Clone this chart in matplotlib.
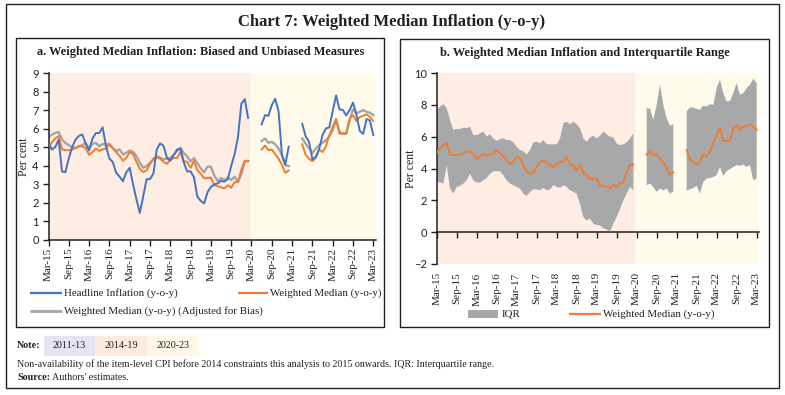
import numpy as np
import matplotlib
matplotlib.use("Agg")
import matplotlib.pyplot as plt
from matplotlib.lines import Line2D
from matplotlib.patches import Rectangle
from matplotlib.text import Annotation

nan = np.nan
# ---------------- data ----------------
tick_labels = ["Mar-15", "Sep-15", "Mar-16", "Sep-16", "Mar-17", "Sep-17", "Mar-18", "Sep-18",
               "Mar-19", "Sep-19", "Mar-20", "Sep-20", "Mar-21", "Sep-21", "Mar-22", "Sep-22", "Mar-23"]

headline = [5.25, 4.87, 5.01, 5.40, 3.69, 3.66, 4.41, 5.00, 5.41, 5.61,
            5.69, 5.18, 4.83, 5.47, 5.76, 5.77, 6.07, 5.05, 4.39, 4.20, 3.63, 3.41,
            3.17, 3.65, 3.89, 2.99, 2.18, 1.46, 2.36, 3.28, 3.28, 3.58, 4.88, 5.21,
            5.07, 4.44, 4.28, 4.58, 4.87, 4.92, 4.17, 3.69, 3.70, 3.38, 2.33, 2.11,
            1.97, 2.57, 2.86, 2.99, 3.05, 3.18, 3.15, 3.28, 3.99, 4.62, 5.54, 7.35,
            7.59, 6.58, nan, nan, nan, 6.23, 6.73, 6.69, 7.27, 7.61, 6.93, 4.59,
            4.06, 5.03, nan, nan, nan, 6.26, 5.59, 5.30, 4.35, 4.48, 4.91, 5.66,
            6.01, 6.07, 6.95, 7.79, 7.04, 7.01, 6.71, 7.00, 7.41, 6.77, 5.88, 5.72,
            6.52, 6.44, 5.66]

wmedian = [5.00, 5.26, 5.47, 5.60, 4.88, 4.84, 4.84, 4.88, 4.95, 5.05,
           5.05, 4.95, 4.59, 4.74, 4.93, 4.80, 4.88, 4.93, 5.14, 4.95, 4.74, 4.53,
           4.27, 4.42, 4.74, 4.63, 4.21, 3.83, 3.66, 3.75, 4.10, 4.38, 4.46, 4.38,
           4.21, 4.10, 4.32, 4.42, 4.42, 4.74, 4.25, 4.21, 3.89, 4.25, 3.75, 3.58,
           3.33, 3.33, 3.37, 2.95, 2.90, 2.84, 2.78, 2.95, 2.82, 3.12, 3.12, 3.79,
           4.25, 4.25, nan, nan, nan, 4.88, 5.09, 4.84, 4.88, 4.63, 4.38, 4.04,
           3.62, 3.75, nan, nan, nan, 5.16, 4.59, 4.38, 4.25, 4.42, 4.88, 4.74,
           5.05, 5.64, 6.10, 6.53, 5.73, 5.73, 5.73, 6.53, 6.74, 6.42, 6.63, 6.69,
           6.78, 6.63, 6.42]

wmedian_adj = [5.54, 5.68, 5.77, 5.82, 5.41, 5.23, 5.11, 5.00, 4.96, 5.05,
               5.11, 5.23, 4.93, 5.18, 5.23, 5.05, 5.18, 5.14, 5.18, 4.96, 4.79, 4.88,
               4.61, 4.70, 4.82, 4.75, 4.52, 4.16, 3.89, 3.98, 4.16, 4.34, 4.52, 4.43,
               4.34, 4.39, 4.41, 4.59, 4.80, 4.98, 4.68, 4.50, 4.23, 4.41, 4.14, 3.86,
               3.65, 3.95, 3.95, 3.47, 3.18, 3.33, 3.24, 3.36, 3.24, 3.41, 3.14, 3.54,
               4.26, 4.26, nan, nan, nan, 5.34, 5.47, 5.24, 5.29, 5.16, 4.93, 4.57,
               4.03, 3.98, nan, nan, nan, 5.47, 5.20, 4.93, 4.69, 4.93, 5.11, 5.24,
               5.38, 5.59, 5.92, 6.46, 5.83, 5.74, 5.74, 6.46, 7.04, 6.82, 6.91, 7.00,
               6.91, 6.86, 6.73]

iqr_upper = [7.68, 7.89, 8.04, 7.79, 7.05, 6.42, 6.48, 6.48, 6.57, 6.53,
             6.63, 6.10, 6.10, 6.21, 6.32, 6.00, 6.15, 5.89, 5.73, 5.85, 5.89, 5.79,
             5.79, 5.64, 5.37, 5.16, 5.09, 4.88, 5.16, 5.64, 5.68, 5.58, 5.79, 5.52,
             5.52, 5.52, 5.52, 5.89, 6.84, 6.95, 6.78, 6.95, 6.78, 6.53, 5.89, 5.68,
             5.94, 6.06, 5.89, 6.06, 6.32, 6.15, 6.00, 5.94, 5.58, 5.47, 5.52, 5.64,
             5.89, 6.21, nan, nan, nan, 7.79, 7.75, 7.05, 8.00, 9.26, 8.00, 7.16,
             6.69, 6.78, nan, nan, nan, 7.58, 7.83, 7.83, 7.75, 7.68, 7.96, 7.89,
             8.04, 8.00, 9.05, 9.58, 8.74, 8.21, 8.25, 8.74, 9.37, 8.63, 8.74, 9.05,
             9.26, 9.64, 9.37]

iqr_lower = [3.16, 3.12, 3.05, 4.21, 2.74, 2.42, 2.84, 2.91, 3.05, 3.26,
             3.68, 3.26, 3.12, 3.12, 3.26, 3.41, 3.68, 3.83, 3.83, 3.83, 3.58, 3.26,
             3.05, 2.95, 2.84, 2.74, 2.42, 2.27, 2.53, 2.69, 2.69, 2.63, 2.78, 2.63,
             2.69, 2.95, 2.84, 2.78, 2.95, 2.84, 2.63, 2.53, 2.42, 1.79, 0.95, 0.74,
             0.84, 0.53, 0.46, 0.42, 0.25, 0.17, 0.04, 0.53, 0.95, 1.47, 2.00, 2.42,
             2.84, 2.63, nan, nan, nan, 2.95, 3.05, 2.84, 2.53, 2.74, 2.63, 2.74,
             2.42, 2.57, nan, nan, nan, 2.63, 2.69, 2.78, 2.91, 2.42, 3.16, 3.37,
             3.41, 3.47, 3.58, 4.10, 3.54, 3.83, 3.96, 4.10, 4.21, 4.17, 4.25, 4.10,
             4.21, 3.26, 3.37]

period_labels = ["2011-13", "2014-19", "2020-23"]
period_colors = ["#E6E3F2", "#FDEBDE", "#FFF8E7"]

# ---------------- styling ----------------
SERIF = ["Liberation Serif", "DejaVu Serif"]
SANS = ["Lato", "DejaVu Sans"]
TXT = "#231F20"
BLUE = "#4472C4"
ORANGE = "#ED7D31"
GREY = "#A5A5A5"
IQRC = "#A7A8AA"
PEACH = "#FDEDE2"
CREAM = "#FFFAEA"

plt.rcParams["font.family"] = SERIF

W, H = 785, 395
fig = plt.figure(figsize=(W / 100, H / 100), dpi=100)


def fx(px):
    return px / W


def fy(py):
    return 1 - py / H


def frame(x0, y0, x1, y1, lw=1.0):
    fig.add_artist(Rectangle((fx(x0), fy(y1)), fx(x1) - fx(x0), fy(y0) - fy(y1),
                             transform=fig.transFigure, fill=False, lw=lw, ec=TXT))


frame(6, 4, 779, 388)
frame(16, 38, 384, 327)
frame(400, 39, 769, 327)

fig.text(fx(392), fy(22), "Chart 7: Weighted Median Inflation (y-o-y)", ha="center", va="center",
         fontsize=12, fontweight="bold", color=TXT)
fig.text(fx(200.5), fy(52), "a. Weighted Median Inflation: Biased and Unbiased Measures",
         ha="center", va="center", fontsize=8.9, fontweight="bold", color=TXT)
fig.text(fx(584.5), fy(53), "b. Weighted Median Inflation and Interquartile Range",
         ha="center", va="center", fontsize=9, fontweight="bold", color=TXT)

n = len(headline)
x = np.arange(n)
tick_pos = np.arange(0, n, 6)
XMAX = 96.8
SPLIT = 59.5

# ---------------- panel a ----------------
axa = fig.add_axes([fx(48.5), fy(240), fx(376) - fx(48.5), fy(73) - fy(240)])
axa.axvspan(0, SPLIT, color=PEACH, lw=0, zorder=0)
axa.axvspan(SPLIT, XMAX, color=CREAM, lw=0, zorder=0)
axa.plot(x, wmedian_adj, color=GREY, lw=1.7, zorder=2)
axa.plot(x, wmedian, color=ORANGE, lw=1.4, zorder=3)
axa.plot(x, headline, color=BLUE, lw=1.4, zorder=4)
axa.set_xlim(0, XMAX)
axa.set_ylim(0, 9)
axa.set_yticks(range(0, 10))
axa.set_xticks(tick_pos)
axa.set_xticklabels(tick_labels, rotation=90, fontsize=8, color=TXT)
for s in ["top", "right"]:
    axa.spines[s].set_visible(False)
for s in ["left", "bottom"]:
    axa.spines[s].set_color(TXT)
    axa.spines[s].set_linewidth(1.1)
axa.tick_params(axis="x", direction="out", length=4, width=1, pad=1.5, colors=TXT)
axa.tick_params(axis="y", direction="out", length=4, width=1, pad=3, colors=TXT)
for lab in axa.get_yticklabels():
    lab.set_fontfamily(SANS)
    lab.set_fontsize(8)
axa.set_ylabel("Per cent", fontsize=8.5, color=TXT)
axa.yaxis.set_label_coords((30 - 48.5) / (376 - 48.5), 0.5)

# ---------------- panel b ----------------
axb = fig.add_axes([fx(436.7), fy(264), fx(759.3) - fx(436.7), fy(73) - fy(264)])
axb.axvspan(0, SPLIT, color=PEACH, lw=0, zorder=0)
axb.axvspan(SPLIT, XMAX, color=CREAM, lw=0, zorder=0)
lo = np.array(iqr_lower, dtype=float)
up = np.array(iqr_upper, dtype=float)
ok = np.isfinite(lo) & np.isfinite(up)
axb.fill_between(x, np.where(ok, lo, 0), np.where(ok, up, 0), where=ok,
                 color=IQRC, lw=0, zorder=1)
axb.plot(x, wmedian, color=ORANGE, lw=1.4, zorder=3)
axb.set_xlim(0, XMAX)
axb.set_ylim(-2, 10)
axb.set_yticks(range(-2, 11, 2))
for s in ["top", "right", "bottom"]:
    axb.spines[s].set_visible(False)
axb.spines["left"].set_color(TXT)
axb.spines["left"].set_linewidth(1.1)
axb.set_xticks(tick_pos)
axb.set_xticklabels(tick_labels, rotation=90, fontsize=8, color=TXT)
axb.tick_params(axis="x", length=0, pad=6, colors=TXT)
axb.tick_params(axis="y", direction="out", length=4, width=1, pad=3, colors=TXT)
for lab in axb.get_yticklabels():
    lab.set_fontfamily(SANS)
    lab.set_fontsize(8)
axb.set_ylabel("Per cent", fontsize=8.5, color=TXT)
axb.yaxis.set_label_coords((416.5 - 436.7) / (759.3 - 436.7), 0.5)
sec = axb.secondary_xaxis(2 / 12)
sec.set_xticks(tick_pos)
sec.set_xticklabels([])
sec.spines["bottom"].set_color(TXT)
sec.spines["bottom"].set_linewidth(1.1)
sec.tick_params(axis="x", direction="out", length=4, width=1, colors=TXT)

# ---------------- legends ----------------
LEGFS = 7.8


def leg_line(x0, x1, y, color, lw, label, tx):
    fig.add_artist(Line2D([fx(x0), fx(x1)], [fy(y), fy(y)], transform=fig.transFigure,
                          color=color, lw=lw, solid_capstyle="butt"))
    fig.text(fx(tx), fy(y), label, ha="left", va="center", fontsize=LEGFS, color=TXT)


leg_line(30, 62, 293, BLUE, 1.6, "Headline Inflation (y-o-y)", 64)
leg_line(238, 268, 293, ORANGE, 1.6, "Weighted Median (y-o-y)", 270)
leg_line(30, 62, 311, GREY, 2.0, "Weighted Median (y-o-y) (Adjusted for Bias)", 64)

fig.add_artist(Rectangle((fx(468), fy(318)), fx(498) - fx(468), fy(310) - fy(318),
                         transform=fig.transFigure, color=IQRC, lw=0))
fig.text(fx(502), fy(314), "IQR", ha="left", va="center", fontsize=LEGFS, color=TXT)
leg_line(569, 601, 314, ORANGE, 1.6, "Weighted Median (y-o-y)", 603)

# ---------------- notes ----------------
NFS = 7.2
fig.text(fx(17), fy(346), "Note:", ha="left", va="center", fontsize=NFS, fontweight="bold", color=TXT)
bx = [44, 95, 147, 199]
for i, (lab, col) in enumerate(zip(period_labels, period_colors)):
    fig.add_artist(Rectangle((fx(bx[i]), fy(356)), fx(bx[i + 1]) - fx(bx[i]), fy(336) - fy(356),
                             transform=fig.transFigure, color=col, lw=0))
    fig.text(fx((bx[i] + bx[i + 1]) / 2), fy(346), lab, ha="center", va="center",
             fontsize=NFS, color=TXT)
fig.text(fx(17), fy(364), "Non-availability of the item-level CPI before 2014 constraints this analysis "
         "to 2015 onwards. IQR: Interquartile range.", ha="left", va="center", fontsize=NFS, color=TXT)
src = fig.text(fx(17), fy(377), "Source:", ha="left", va="center", fontsize=NFS,
               fontweight="bold", color=TXT)
fig.add_artist(Annotation(" Authors' estimates.", xy=(1, 0.5), xycoords=src,
                          ha="left", va="center", fontsize=NFS, color=TXT))

fig.savefig("out.png", dpi=100)
